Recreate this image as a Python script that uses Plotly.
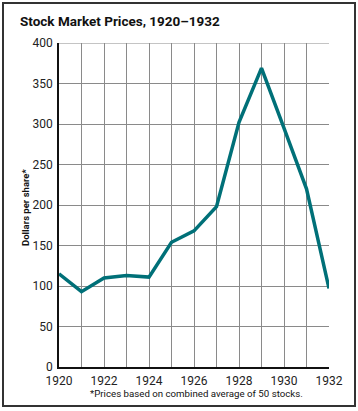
import plotly.graph_objects as go

years = [1920, 1921, 1922, 1923, 1924, 1925, 1926, 1927, 1928, 1929, 1930, 1931, 1932]
prices = [115, 93, 110, 113, 111, 154, 168, 198, 302, 369, 295, 220, 97]
x_tick_vals = [1920, 1922, 1924, 1926, 1928, 1930, 1932]
y_tick_vals = [0, 50, 100, 150, 200, 250, 300, 350, 400]

title_text = "Stock Market Prices, 1920\u20131932"
y_title = "Dollars per share*"
footnote = "*Prices based on combined average of 50 stocks."

W, H = 358, 411
L, R, T, B = 59, 29, 43, 44
PW, PH = W - L - R, H - T - B

def px(x):
    return (x - L) / PW

def py(y):
    return (H - B - y) / PH

FONT = "Roboto, Arial, sans-serif"

fig = go.Figure()
fig.add_trace(go.Scatter(
    x=years, y=prices, mode="lines",
    line=dict(color="#007078", width=3.5),
    hoverinfo="skip", showlegend=False,
))

fig.update_layout(
    width=W, height=H,
    margin=dict(l=L, r=R, t=T, b=B),
    paper_bgcolor="white", plot_bgcolor="white",
    font=dict(family=FONT, size=12, color="#222"),
    xaxis=dict(
        range=[1920, 1932], tickvals=x_tick_vals, ticktext=[str(v) for v in x_tick_vals],
        showgrid=True, gridcolor="#8a8a8a", gridwidth=1,
        minor=dict(dtick=1, tick0=1920, showgrid=True, gridcolor="#8a8a8a", gridwidth=1),
        showline=True, linecolor="#111", linewidth=1.5,
        ticks="", zeroline=False, fixedrange=True, ticklabelstandoff=2,
    ),
    yaxis=dict(
        range=[0, 400], tickvals=y_tick_vals,
        showgrid=True, gridcolor="#8a8a8a", gridwidth=1,
        showline=True, linecolor="#111", linewidth=1.5,
        ticks="", zeroline=False, fixedrange=True, ticklabelstandoff=2,
    ),
    shapes=[
        dict(type="rect", xref="paper", yref="paper",
             x0=px(3), x1=px(355), y0=py(406), y1=py(3),
             line=dict(color="#333", width=2), fillcolor="rgba(0,0,0,0)", layer="below"),
        dict(type="line", xref="paper", yref="y", x0=0, x1=1, y0=400, y1=400,
             line=dict(color="#8a8a8a", width=1), layer="below"),
    ],
    annotations=[
        dict(text="<b>" + title_text + "</b>", xref="paper", yref="paper",
             x=px(18), y=py(21), xanchor="left", yanchor="middle", showarrow=False,
             font=dict(family=FONT, size=13.5, color="#111")),
        dict(text="<b>" + y_title + "</b>", xref="paper", yref="paper",
             x=px(25), y=py(208), xanchor="center", yanchor="middle", showarrow=False,
             textangle=-90, font=dict(family=FONT, size=9.5, color="#111")),
        dict(text=footnote, xref="paper", yref="paper",
             x=px(196), y=py(393), xanchor="center", yanchor="middle", showarrow=False,
             font=dict(family=FONT, size=9.7, color="#111")),
    ],
)

fig.write_html("out.html", config={"displayModeBar": False},
               post_script="document.body.style.margin='0';")
